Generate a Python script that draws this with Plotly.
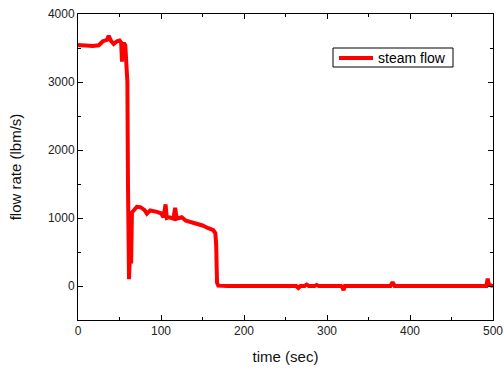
import plotly.graph_objects as go

time_sec = [0, 5, 10, 18, 25, 30, 35, 37, 40, 43, 47, 50, 52, 53, 54, 56, 57, 58.5, 59.5, 60.2, 60.8,
            61.5, 62.3, 63, 64, 65, 68, 71, 75, 80, 83, 87, 95, 100, 103, 105.5, 107, 110, 115,
            117, 119, 125, 130, 135, 140, 145, 150, 157, 163, 165.5, 166.5, 167.5, 169, 180, 200,
            230, 263, 265.5, 268, 273, 275.5, 278, 285, 287.5, 290, 310, 317, 318.5, 320, 321.5, 340,
            376.5, 379, 381.5, 420, 460, 490, 492, 493.6, 495, 500]
steam_flow = [3545, 3540, 3545, 3530, 3540, 3600, 3620, 3680, 3600, 3560, 3600, 3610, 3580, 3300, 3560,
              3560, 3540, 3300, 3000, 1500, 120, 100, 400, 350, 330, 1080, 1130, 1165, 1160, 1120,
              1065, 1110, 1090, 1070, 1010, 1200, 1000, 1010, 990, 1150, 990, 1010, 960, 945, 920,
              915, 890, 850, 820, 775, 600, 50, 5, 0, 0, 0, 0, -30, 0, 0, 20, 0, 0, 15, 0, 0, 0,
              -20, -60, 0, 0, 0, 55, 0, 0, 0, 0, 0, 110, 20, 0]

legend_label = "steam flow"
FONT = "Liberation Sans, Arial"

fig = go.Figure()
fig.add_trace(go.Scatter(x=time_sec, y=steam_flow, mode="lines", name=legend_label,
                         line=dict(color="#ff0000", width=4), showlegend=False))

axis_common = dict(showline=True, linecolor="black", linewidth=1, mirror="allticks",
                   ticks="inside", ticklen=5, tickcolor="black", showgrid=False, zeroline=False,
                   automargin=False,
                   tickfont=dict(family=FONT, size=12, color="#222"))
fig.update_xaxes(range=[0, 500], dtick=100, minor=dict(dtick=50, ticks="inside", ticklen=3, tickcolor="black"),
                 title=dict(text="time (sec)", font=dict(family=FONT, size=15, color="#111"), standoff=14),
                 **axis_common)
fig.update_yaxes(range=[-500, 4000], dtick=1000, minor=dict(dtick=500, ticks="inside", ticklen=3, tickcolor="black"),
                 title=dict(text="flow rate (lbm/s)", font=dict(family=FONT, size=15, color="#111"), standoff=22),
                 **axis_common)

# manual legend box (paper coordinates derived from plot area)
W, H, L, B = 415.0, 306.0, 78.0, 320.0
def px(x): return (x - L) / W
def py(y): return (B - y) / H
fig.add_shape(type="rect", xref="paper", yref="paper", x0=px(333), x1=px(453), y0=py(67), y1=py(48),
              line=dict(color="black", width=1), fillcolor="white", layer="above")
fig.add_shape(type="line", xref="paper", yref="paper", x0=px(339), x1=px(373), y0=py(58), y1=py(58),
              line=dict(color="#ff0000", width=4), layer="above")
fig.add_annotation(xref="paper", yref="paper", x=px(376), y=py(57.5), xanchor="left", yanchor="middle",
                   text=legend_label, showarrow=False, font=dict(family=FONT, size=14, color="black"))

fig.update_layout(width=504, height=372, margin=dict(l=78, r=11, t=14, b=52),
                  plot_bgcolor="white", paper_bgcolor="white", showlegend=False)
fig.write_html("out.html")
